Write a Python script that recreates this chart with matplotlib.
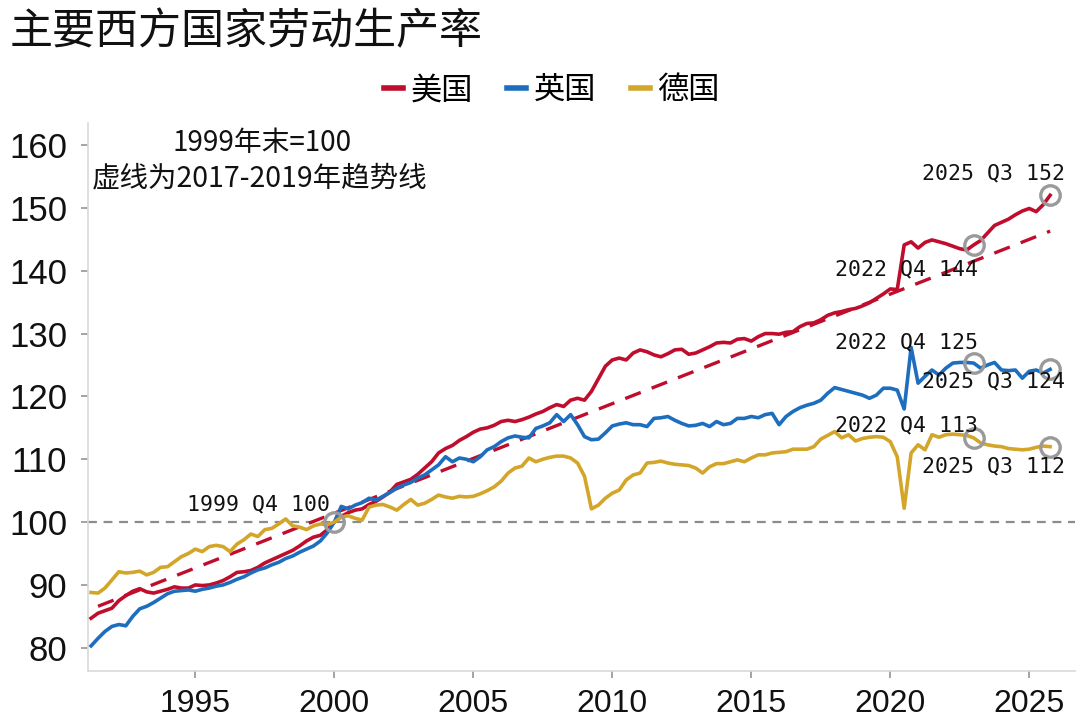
import pandas as pd
import matplotlib
matplotlib.use('Agg')
import matplotlib.pyplot as plt
from matplotlib.lines import Line2D

# quarterly labour productivity, 1999 Q4 = 100
quarters = pd.period_range('1991Q1', '2025Q3', freq='Q')

us = [84.7, 85.5, 85.9, 86.3, 87.5, 88.3, 89.0, 89.4, 88.9, 88.7, 89.0, 89.3,
      89.7, 89.5, 89.5, 90.0, 89.9, 90.0, 90.3, 90.7, 91.3, 92.0, 92.1, 92.3,
      92.8, 93.5, 94.0, 94.5, 95.0, 95.5, 96.2, 97.0, 97.6, 97.9, 98.8, 100.0,
      100.9, 101.5, 101.9, 102.1, 102.8, 103.3, 104.0, 104.8, 106.0, 106.4, 106.8, 107.6,
      108.6, 109.6, 111.0, 111.7, 112.2, 113.0, 113.6, 114.3, 114.8, 115.0, 115.4, 116.0,
      116.2, 116.0, 116.3, 116.7, 117.2, 117.6, 118.2, 118.7, 118.4, 119.4, 119.7, 119.4,
      120.8, 122.8, 124.8, 125.8, 126.1, 125.8, 126.9, 127.4, 127.1, 126.6, 126.3, 126.8,
      127.4, 127.5, 126.7, 126.9, 127.4, 127.9, 128.5, 128.6, 128.5, 129.1, 129.2, 128.8,
      129.5, 130.0, 130.0, 129.9, 130.2, 130.3, 131.1, 131.6, 131.7, 132.2, 132.9, 133.3,
      133.5, 133.8, 134.0, 134.4, 134.9, 135.6, 136.3, 137.1, 137.0, 144.1, 144.6, 143.6,
      144.5, 144.9, 144.6, 144.3, 143.9, 143.5, 143.3, 144.1, 144.8, 146.0, 147.2, 147.7,
      148.2, 148.9, 149.5, 149.9, 149.4, 150.5, 152.0]

uk = [80.3, 81.5, 82.6, 83.4, 83.7, 83.5, 85.0, 86.2, 86.6, 87.2, 87.9, 88.6,
      89.0, 89.1, 89.2, 89.0, 89.3, 89.5, 89.8, 90.0, 90.4, 90.9, 91.3, 91.9,
      92.4, 92.7, 93.2, 93.6, 94.2, 94.6, 95.2, 95.7, 96.2, 97.0, 98.3, 100.0,
      102.5, 102.1, 102.7, 103.1, 103.8, 103.5, 104.1, 104.7, 105.4, 105.9, 106.3, 107.0,
      107.5, 108.3, 109.1, 110.4, 109.6, 110.2, 110.0, 109.6, 110.4, 111.5, 112.0, 112.8,
      113.4, 113.7, 113.5, 113.4, 114.9, 115.3, 115.8, 117.1, 116.0, 117.1, 115.5, 113.6,
      113.1, 113.2, 114.2, 115.3, 115.6, 115.8, 115.5, 115.5, 115.2, 116.5, 116.6, 116.8,
      116.2, 115.7, 115.3, 115.4, 115.7, 115.2, 116.0, 115.5, 115.7, 116.5, 116.5, 116.8,
      116.6, 117.1, 117.3, 115.5, 116.8, 117.6, 118.2, 118.6, 118.9, 119.4, 120.5, 121.4,
      121.1, 120.8, 120.5, 120.2, 119.7, 120.2, 121.3, 121.3, 121.0, 118.0, 127.8, 122.1,
      123.2, 124.2, 123.4, 124.5, 125.3, 125.4, 125.4, 125.3, 124.5, 125.0, 125.4, 124.2,
      124.1, 124.2, 122.9, 124.0, 124.2, 123.7, 124.3]

de = [88.8, 88.7, 89.5, 90.8, 92.1, 91.9, 92.0, 92.2, 91.6, 92.0, 92.8, 92.9,
      93.7, 94.5, 95.0, 95.7, 95.3, 96.1, 96.3, 96.1, 95.3, 96.5, 97.2, 98.1,
      97.7, 98.8, 99.0, 99.7, 100.5, 99.4, 99.2, 98.8, 99.4, 99.7, 99.6, 100.0,
      100.8, 101.0, 100.6, 100.3, 102.4, 102.7, 102.8, 102.4, 101.9, 102.8, 103.6, 102.7,
      103.0, 103.6, 104.3, 104.0, 103.8, 104.1, 104.0, 104.1, 104.5, 105.0, 105.6, 106.5,
      107.8, 108.6, 108.9, 110.2, 109.6, 110.0, 110.3, 110.5, 110.5, 110.2, 109.4, 107.3,
      102.1, 102.7, 103.8, 104.6, 105.1, 106.7, 107.5, 107.8, 109.4, 109.5, 109.7, 109.4,
      109.2, 109.1, 109.0, 108.6, 107.8, 108.8, 109.3, 109.3, 109.6, 109.9, 109.6, 110.2,
      110.7, 110.7, 111.0, 111.1, 111.2, 111.6, 111.6, 111.6, 112.0, 113.2, 113.8, 114.4,
      113.4, 113.9, 112.9, 113.3, 113.5, 113.6, 113.5, 112.8, 110.4, 102.2, 111.0, 112.3,
      111.5, 113.9, 113.5, 113.9, 114.0, 113.9, 113.8, 113.4, 112.6, 112.3, 112.1, 112.0,
      111.7, 111.6, 111.5, 111.6, 111.9, 112.1, 112.0]

# US 2017-2019 trend line, end points
trend_q = ['1991Q2', '2025Q3']
trend_val = [86.6, 146.3]

names = ['美国', '英国', '德国']
colors = ['#C00D2D', '#1E6EBF', '#D3A62A']

CJK = ['Noto Sans CJK SC', 'DejaVu Sans']


def qpos(p):
    # plot each quarter at its end
    return p.year + p.quarter / 4


x = [qpos(p) for p in quarters]
series = [us, uk, de]

fig = plt.figure(figsize=(10.8, 7.22), dpi=100)
ax = fig.add_axes([0.0815, 0.0706, 0.914, 0.759])

ax.axhline(100, color='#8c8c8c', lw=1.6, ls=(0, (4, 3)), zorder=1)

for vals, c in zip(series, colors):
    ax.plot(x, vals, color=c, lw=2.6, zorder=3)

tx = [qpos(pd.Period(q, freq='Q')) for q in trend_q]
ax.plot(tx, trend_val, color=colors[0], lw=2.4, ls=(0, (5, 3.5)), zorder=2)

# circled points: (series, quarter, dx, dy) offsets in points
marks = [(0, '1999Q4', -3, 13),
         (0, '2022Q4', 3, -18), (0, '2025Q3', 11, 16),
         (1, '2022Q4', 3, 15), (1, '2025Q3', 11, -9),
         (2, '2022Q4', 3, 9), (2, '2025Q3', 11, -14)]
for k, q, dx, dy in marks:
    p = pd.Period(q, freq='Q')
    idx = list(quarters).index(p)
    v = series[k][idx]
    ax.plot(qpos(p), v, 'o', ms=14, mfc='none', mec='#9a9a9a', mew=2.4, zorder=5)
    ax.annotate(f'{p.year} Q{p.quarter} {round(v)}', (qpos(p), v),
                xytext=(dx, dy), textcoords='offset points',
                ha='right', va='center', fontsize=15.5,
                family='DejaVu Sans Mono', color='#111111', zorder=6)

ax.set_xlim(1991.14, 2026.65)
ax.set_ylim(76.3, 163.5)
ax.set_xticks(range(1995, 2026, 5))
ax.set_yticks(range(80, 161, 10))
for s in ['top', 'right']:
    ax.spines[s].set_visible(False)
for s in ['left', 'bottom']:
    ax.spines[s].set_color('#d9d9d9')
    ax.spines[s].set_linewidth(1.2)
ax.tick_params(axis='both', colors='#8c8c8c', length=5, width=1.1,
               labelcolor='#111111', labelsize=23)
ax.tick_params(axis='y', pad=10, labelsize=25)
ax.tick_params(axis='x', pad=8)
for lab in ax.get_xticklabels() + ax.get_yticklabels():
    lab.set_family('Liberation Sans')

fig.text(0.009, 0.956, '主要西方国家劳动生产率', fontsize=31, family=CJK,
         ha='left', va='center', color='#111111')

handles = [Line2D([], [], color=c, lw=4) for c in colors]
fig.legend(handles, names, loc='center', bbox_to_anchor=(0.511, 0.875),
           ncol=3, frameon=False, handlelength=0.6, handletextpad=0.25,
           columnspacing=1.1, prop={'family': CJK, 'size': 22.5})

fig.text(0.2426, 0.802, '1999年末=100', fontsize=20, family=CJK,
         ha='center', va='center', color='#111111')
fig.text(0.085, 0.7535, '虚线为2017-2019年趋势线', fontsize=20.5, family=CJK,
         ha='left', va='center', color='#111111')

fig.savefig('out.png', dpi=100)
